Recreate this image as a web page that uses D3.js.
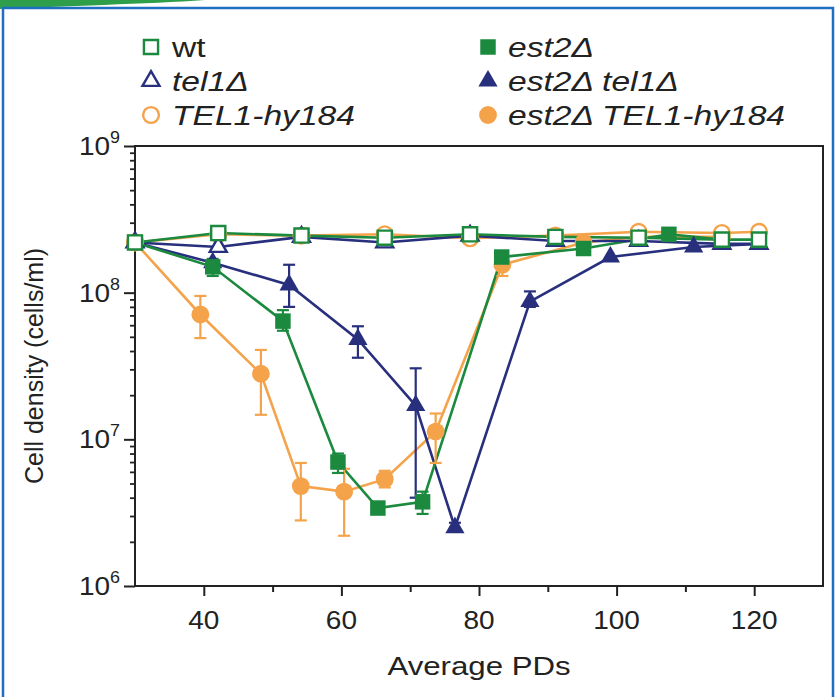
<!DOCTYPE html>
<html>
<head>
  <meta charset="utf-8">
  <title>Cell density vs average PDs</title>
  <script src="https://d3js.org/d3.v7.min.js"></script>
  <style>
    body { margin: 0; background: #fff; }
    svg { display: block; font-family: "Liberation Sans", Arial, sans-serif; }
  </style>
</head>
<body>
  <svg id="chart" width="836" height="697"></svg>

  <script>
    // ---- data ----
    const pdWT = [30, 42.1, 54.2, 66.3, 78.7, 91.1, 103.2, 115.3, 120.7];
    const wt = [2.2e8, 2.55e8, 2.45e8, 2.37e8, 2.5e8, 2.4e8, 2.37e8, 2.3e8, 2.3e8];
    const tel1 = [2.2e8, 2.05e8, 2.4e8, 2.2e8, 2.45e8, 2.25e8, 2.25e8, 2.15e8, 2.15e8];
    const hy184 = [2.2e8, 2.5e8, 2.45e8, 2.5e8, 2.35e8, 2.45e8, 2.6e8, 2.55e8, 2.6e8];

    const pdEst2 = [30, 41.3, 51.5, 59.5, 65.3, 71.8, 83.3, 95.2, 107.6, 115.3];
    const est2 = [2.2e8, 1.5e8, 6.4e7, 7.0e6, 3.4e6, 3.75e6, 1.75e8, 2.0e8, 2.5e8, 2.3e8];
    const est2Lo = [null, 1.3e8, 5.5e7, 5.9e6, 3.2e6, 3.1e6, null, null, null, null];
    const est2Hi = [null, 1.7e8, 7.6e7, 8.0e6, 3.6e6, 4.4e6, null, null, null, null];

    const pdEst2Tel1 = [30, 41.3, 52.4, 62.4, 70.8, 76.5, 87.4, 99.1, 111.2, 120.7];
    const est2Tel1 = [2.2e8, 1.6e8, 1.13e8, 4.8e7, 1.7e7, 2.5e6, 8.7e7, 1.75e8, 2.05e8, 2.15e8];
    const est2Tel1Lo = [null, null, 8.0e7, 3.6e7, 4.0e6, 2.35e6, 8.0e7, null, null, null];
    const est2Tel1Hi = [null, null, 1.55e8, 5.9e7, 3.05e7, 2.7e6, 1.02e8, null, null, null];

    const pdEst2Hy = [30, 39.5, 48.3, 54.1, 60.4, 66.3, 73.7, 83.4, 95.2, 103.2, 115.3];
    const est2Hy = [2.2e8, 7.1e7, 2.8e7, 4.8e6, 4.4e6, 5.35e6, 1.13e7, 1.55e8, 2.2e8, 2.4e8, 2.4e8];
    const est2HyLo = [null, 4.9e7, 1.47e7, 2.8e6, 2.2e6, 4.7e6, 6.9e6, 1.3e8, null, null, null];
    const est2HyHi = [null, 9.5e7, 4.07e7, 6.9e6, 6.3e6, 6.1e6, 1.5e7, 1.75e8, 2.45e8, null, null];

    const xTicks = [40, 60, 80, 100, 120];
    const xMinor = [50, 70, 90, 110];
    const yDecades = [6, 7, 8, 9];

    const green = "#1b8a3e";
    const navy = "#28307e";
    const orange = "#f5a34b";
    const ink = "#222";

    const svg = d3.select("svg#chart");

    // frame of the page (blue border, green swoosh top-left)
    svg.append("path")
      .attr("d", "M0,0 L205,0 C150,4 60,6 0,9 Z")
      .attr("fill", "#2f9e4a");
    svg.append("rect")
      .attr("x", 3).attr("y", 8)
      .attr("width", 830).attr("height", 700)
      .attr("fill", "none")
      .attr("stroke", "#1e6fc2")
      .attr("stroke-width", 2.5);

    const plot = { left: 135, right: 823, top: 146, bottom: 586 };

    const x = d3.scaleLinear().domain([30, 130]).range([plot.left, plot.right]);
    const y = d3.scaleLog().domain([1e6, 1e9]).range([plot.bottom, plot.top]);

    // text that is a bit wider than the font (the figure is stretched sideways)
    const wideText = (g, tx, ty, size, sx, anchor) => g.append("text")
      .attr("transform", `translate(${tx},${ty}) scale(${sx},1)`)
      .attr("text-anchor", anchor)
      .attr("font-size", size)
      .attr("fill", ink);

    // box
    svg.append("rect")
      .attr("x", plot.left).attr("y", plot.top)
      .attr("width", plot.right - plot.left).attr("height", plot.bottom - plot.top)
      .attr("fill", "none").attr("stroke", ink).attr("stroke-width", 2);

    // bottom axis: major + minor ticks
    const gx = svg.append("g")
      .attr("transform", `translate(0,${plot.bottom})`)
      .call(d3.axisBottom(x).tickValues(xTicks).tickSize(10).tickFormat(""));
    gx.select(".domain").remove();
    gx.selectAll("line").attr("stroke", ink).attr("stroke-width", 2);

    xTicks.forEach(t => {
      wideText(svg, x(t), plot.bottom + 43, 25, 1.12, "middle").text(t);
    });

    const gxMinor = svg.append("g")
      .attr("transform", `translate(0,${plot.bottom})`)
      .call(d3.axisBottom(x).tickValues(xMinor).tickSize(6).tickFormat(""));
    gxMinor.select(".domain").remove();
    gxMinor.selectAll("line").attr("stroke", ink).attr("stroke-width", 2);

    // left axis: decades + minor log ticks
    const minorY = [];
    yDecades.slice(0, 3).forEach(e => {
      for (let m = 2; m <= 9; m++) minorY.push(m * Math.pow(10, e));
    });
    const gyMinor = svg.append("g")
      .attr("transform", `translate(${plot.left},0)`)
      .call(d3.axisLeft(y).tickValues(minorY).tickSize(5).tickFormat(""));
    gyMinor.select(".domain").remove();
    gyMinor.selectAll("line").attr("stroke", ink).attr("stroke-width", 1.8);

    const gy = svg.append("g")
      .attr("transform", `translate(${plot.left},0)`)
      .call(d3.axisLeft(y).tickValues(yDecades.map(e => Math.pow(10, e))).tickSize(11).tickFormat(""));
    gy.select(".domain").remove();
    gy.selectAll("line").attr("stroke", ink).attr("stroke-width", 2);

    // decade labels with superscripts
    yDecades.forEach(e => {
      const t = wideText(svg, plot.left - 15, y(Math.pow(10, e)) + 9, 25, 1.12, "end");
      t.append("tspan").text("10");
      t.append("tspan").attr("font-size", 16).attr("dy", -12).text(e);
    });

    // axis titles
    wideText(svg, (plot.left + plot.right) / 2, 675, 26, 1.2, "middle").text("Average PDs");
    svg.append("text")
      .attr("transform", `translate(43,${(plot.top + plot.bottom) / 2}) rotate(-90)`)
      .attr("text-anchor", "middle")
      .attr("font-size", 25)
      .attr("fill", ink)
      .text("Cell density (cells/ml)");

    // ---- series ----
    const mk = (pds, vals, lo, hi) => pds.map((p, i) => ({
      pd: p, v: vals[i], lo: lo ? lo[i] : null, hi: hi ? hi[i] : null
    }));

    const series = [
      { name: "est2\u0394 TEL1-hy184", data: mk(pdEst2Hy, est2Hy, est2HyLo, est2HyHi), color: orange, shape: "circle", filled: true },
      { name: "est2\u0394 tel1\u0394", data: mk(pdEst2Tel1, est2Tel1, est2Tel1Lo, est2Tel1Hi), color: navy, shape: "triangle", filled: true },
      { name: "est2\u0394", data: mk(pdEst2, est2, est2Lo, est2Hi), color: green, shape: "square", filled: true },
      { name: "TEL1-hy184", data: mk(pdWT, hy184), color: orange, shape: "circle", filled: false },
      { name: "tel1\u0394", data: mk(pdWT, tel1), color: navy, shape: "triangle", filled: false },
      { name: "wt", data: mk(pdWT, wt), color: green, shape: "square", filled: false }
    ];

    const line = d3.line().x(d => x(d.pd)).y(d => y(d.v));

    const symbolFor = (shape, filled) => {
      if (shape === "square") return d3.symbol().type(d3.symbolSquare).size(filled ? 240 : 200)();
      if (shape === "triangle") return d3.symbol().type(d3.symbolTriangle).size(filled ? 160 : 125)();
      return d3.symbol().type(d3.symbolCircle).size(filled ? 250 : 195)();
    };

    const gLines = svg.append("g");
    const gErr = svg.append("g");
    const gMarks = svg.append("g");

    series.forEach(s => {
      gLines.append("path")
        .attr("d", line(s.data))
        .attr("fill", "none")
        .attr("stroke", s.color)
        .attr("stroke-width", 2.6);

      s.data.filter(d => d.lo !== null && d.hi !== null).forEach(d => {
        const g = gErr.append("g").attr("stroke", s.color).attr("stroke-width", 2.2);
        g.append("line").attr("x1", x(d.pd)).attr("x2", x(d.pd)).attr("y1", y(d.lo)).attr("y2", y(d.hi));
        g.append("line").attr("x1", x(d.pd) - 6).attr("x2", x(d.pd) + 6).attr("y1", y(d.lo)).attr("y2", y(d.lo));
        g.append("line").attr("x1", x(d.pd) - 6).attr("x2", x(d.pd) + 6).attr("y1", y(d.hi)).attr("y2", y(d.hi));
      });
    });

    series.forEach(s => {
      gMarks.selectAll(null)
        .data(s.data)
        .join("path")
        .attr("transform", d => `translate(${x(d.pd)},${y(d.v)})`)
        .attr("d", symbolFor(s.shape, s.filled))
        .attr("fill", s.filled ? s.color : "#fff")
        .attr("stroke", s.color)
        .attr("stroke-width", s.filled ? 0 : 2.4);
    });

    // ---- legend ----
    const legendLeft = [series[5], series[4], series[3]];
    const legendRight = [series[2], series[1], series[0]];
    const rowY = [47, 81, 115];

    const drawLegend = (items, mx, tx) => {
      items.forEach((s, i) => {
        svg.append("path")
          .attr("transform", `translate(${mx},${rowY[i]})`)
          .attr("d", symbolFor(s.shape, s.filled))
          .attr("fill", s.filled ? s.color : "#fff")
          .attr("stroke", s.color)
          .attr("stroke-width", s.filled ? 0 : 2.4);
        wideText(svg, tx, rowY[i] + 10, 28, 1.2, "start")
          .attr("font-style", s.name === "wt" ? "normal" : "italic")
          .text(s.name);
      });
    };
    drawLegend(legendLeft, 151, 172);
    drawLegend(legendRight, 488, 508);
  </script>
</body>
</html>
